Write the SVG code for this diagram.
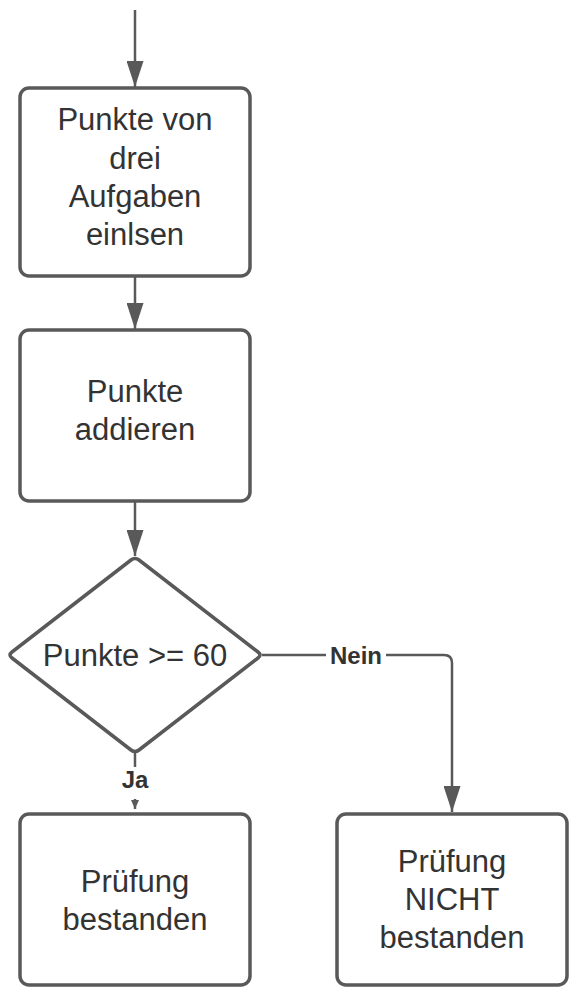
<svg xmlns="http://www.w3.org/2000/svg" width="584" height="995" viewBox="0 0 584 995">
<style>
.box{fill:#fff;stroke:#595959;stroke-width:3.5}
.con{fill:none;stroke:#595959;stroke-width:2.5}
.t{font-family:"Liberation Sans",Arial,sans-serif;font-size:31px;fill:#333;text-anchor:middle}
.lbl{font-family:"Liberation Sans",Arial,sans-serif;font-size:24px;font-weight:bold;fill:#333;text-anchor:middle}
</style>
<defs>
<marker id="ah" markerUnits="userSpaceOnUse" markerWidth="26" markerHeight="17" refX="26" refY="8.5" orient="auto">
<path d="M0,0 L26,8.5 L0,17 z" fill="#595959"/>
</marker>
<marker id="ahs" markerUnits="userSpaceOnUse" markerWidth="9" markerHeight="8" refX="9" refY="4" orient="auto">
<path d="M0,0 L9,4 L0,8 z" fill="#595959"/>
</marker>
</defs>
<rect width="584" height="995" fill="#fff"/>
<g id="connectors">
<path class="con" d="M135,10 L135,87" marker-end="url(#ah)"/>
<path class="con" d="M135,276 L135,329" marker-end="url(#ah)"/>
<path class="con" d="M135,501 L135,556" marker-end="url(#ah)"/>
<path class="con" d="M262,655 L444,655 Q452,655 452,663 L452,812" marker-end="url(#ah)"/>
<path class="con" d="M135,753 L135,767"/>
<path class="con" d="M135,799 L135,809" marker-end="url(#ahs)" stroke-width="1.5"/>
<rect x="326" y="642" width="60" height="26" fill="#fff"/>
<text class="lbl" x="356" y="664">Nein</text>
<text class="lbl" x="135" y="788">Ja</text>
</g>
<g id="n1">
<rect class="box" x="20" y="88" width="230" height="188" rx="9"/>
<text class="t" x="135" y="130">Punkte von</text>
<text class="t" x="135" y="168.5">drei</text>
<text class="t" x="135" y="207">Aufgaben</text>
<text class="t" x="135" y="245">einlsen</text>
</g>
<g id="n2">
<rect class="box" x="20" y="330" width="230" height="171" rx="9"/>
<text class="t" x="135" y="402">Punkte</text>
<text class="t" x="135" y="440">addieren</text>
</g>
<g id="n3">
<path class="box" d="M131,560 Q135,557 139,560 L258,652 Q262,655 258,658 L139,750 Q135,753 131,750 L12,658 Q8,655 12,652 Z"/>
<text class="t" x="135" y="666">Punkte &gt;= 60</text>
</g>
<g id="n4">
<rect class="box" x="20" y="814" width="230" height="171" rx="9"/>
<text class="t" x="135" y="892">Prüfung</text>
<text class="t" x="135" y="930">bestanden</text>
</g>
<g id="n5">
<rect class="box" x="337" y="814" width="230" height="171" rx="9"/>
<text class="t" x="452" y="872">Prüfung</text>
<text class="t" x="452" y="910">NICHT</text>
<text class="t" x="452" y="948">bestanden</text>
</g>
</svg>
